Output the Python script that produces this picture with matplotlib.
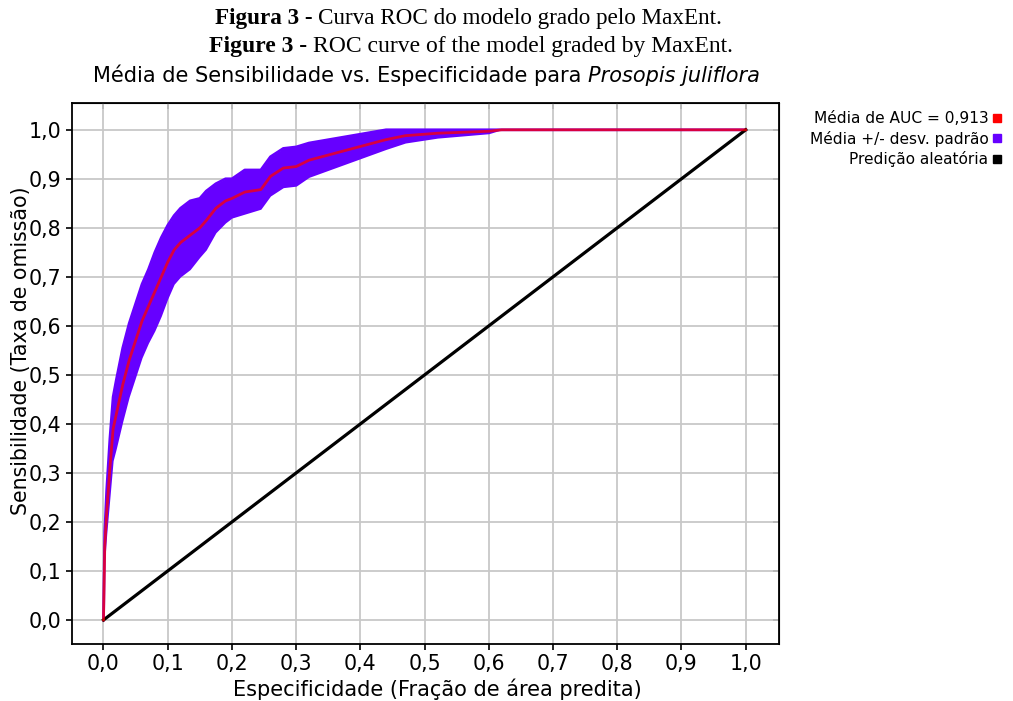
import numpy as np
import matplotlib
matplotlib.use("Agg")
import matplotlib.pyplot as plt
from matplotlib.lines import Line2D

# -----------------------------
# DATA
# -----------------------------
fpr = [0.0, 0.002, 0.005, 0.01, 0.015, 0.02, 0.03, 0.04, 0.05, 0.06, 0.07,
       0.08, 0.09, 0.10, 0.11, 0.12, 0.135, 0.15, 0.16, 0.175, 0.19, 0.20,
       0.22, 0.245, 0.26, 0.28, 0.30, 0.32, 0.36, 0.40, 0.44, 0.47, 0.52,
       0.60, 0.62, 1.0]
mean_tpr = [0.0, 0.15, 0.22, 0.31, 0.39, 0.42, 0.48, 0.53, 0.57, 0.61, 0.64,
            0.67, 0.70, 0.73, 0.755, 0.77, 0.785, 0.80, 0.815, 0.84, 0.855, 0.86,
            0.873, 0.878, 0.905, 0.922, 0.925, 0.938, 0.952, 0.966, 0.98, 0.988, 0.993,
            0.997, 1.0, 1.0]
sd_tpr = [0.0, 0.03, 0.045, 0.06, 0.065, 0.07, 0.075, 0.075, 0.075, 0.075, 0.075,
          0.08, 0.08, 0.075, 0.07, 0.07, 0.07, 0.06, 0.06, 0.05, 0.045, 0.04,
          0.045, 0.04, 0.04, 0.04, 0.04, 0.035, 0.03, 0.025, 0.02, 0.015, 0.01,
          0.005, 0.0, 0.0]
random_x = [0.0, 1.0]
random_y = [0.0, 1.0]

auc_label = "Média de AUC = 0,913"
sd_label = "Média +/- desv. padrão"
rand_label = "Predição aleatória"

ticks = [0.0, 0.1, 0.2, 0.3, 0.4, 0.5, 0.6, 0.7, 0.8, 0.9, 1.0]
tick_labels = ["0,0", "0,1", "0,2", "0,3", "0,4", "0,5", "0,6", "0,7", "0,8", "0,9", "1,0"]

VIOLET = "#6600ff"

# -----------------------------
# PLOT
# -----------------------------
fig = plt.figure(figsize=(10.13, 7.01), dpi=100)
ax = fig.add_axes([0.0711, 0.0813, 0.698, 0.772])

x = np.array(fpr)
m = np.array(mean_tpr)
s = np.array(sd_tpr)
upper = np.minimum(m + s, 1.0)
lower = m - s

ax.fill_between(x, lower, upper, color=VIOLET, linewidth=0, zorder=2)
ax.plot(x, upper, color=VIOLET, linewidth=2.0, zorder=2)
ax.plot(random_x, random_y, color="black", linewidth=2.3, zorder=3)
ax.plot(x, m, color="#ff0000", linewidth=2.0, alpha=0.75, zorder=4)

ax.set_xlim(-0.049, 1.052)
ax.set_ylim(-0.049, 1.055)
ax.set_xticks(ticks)
ax.set_xticklabels(tick_labels)
ax.set_yticks(ticks)
ax.set_yticklabels(tick_labels)
ax.tick_params(axis="both", labelsize=14.8, direction="out", length=4, width=1.2)
ax.grid(True, color="#c8c8c8", linewidth=1.3)
ax.set_axisbelow(True)
for sp in ax.spines.values():
    sp.set_linewidth(1.3)

# inward ticks on top and right
top = ax.secondary_xaxis("top")
top.set_xticks(ticks)
top.set_xticklabels([])
top.tick_params(direction="in", length=4, width=1.2)
right = ax.secondary_yaxis("right")
right.set_yticks(ticks)
right.set_yticklabels([])
right.tick_params(direction="in", length=4, width=1.2)

ax.set_xlabel("Especificidade (Fração de área predita)", fontsize=15)
ax.set_ylabel("Sensibilidade (Taxa de omissão)", fontsize=14.8)
ax.xaxis.set_label_coords(0.517, -0.064)
ax.yaxis.set_label_coords(-0.058, 0.542)

# legend outside, right aligned with markers after text
handles = [
    Line2D([], [], linestyle="none", marker="s", markersize=5.5, color="#ff0000"),
    Line2D([], [], linestyle="none", marker="s", markersize=5.5, color=VIOLET),
    Line2D([], [], linestyle="none", marker="s", markersize=5.5, color="black"),
]
fig.legend(handles, [auc_label, sd_label, rand_label], loc="upper right",
           bbox_to_anchor=(1.0, 0.857), frameon=False, markerfirst=False,
           fontsize=11.1, handletextpad=0.2, handlelength=0.7, labelspacing=0.3,
           borderaxespad=0.3)

# -----------------------------
# CAPTION + TITLE (mixed styles)
# -----------------------------
renderer = fig.canvas.get_renderer()


def mixed_line(pieces, xc, y, **kw):
    objs = []
    for txt, style in pieces:
        t = fig.text(0, y, txt, va="baseline", ha="left", **kw, **style)
        objs.append(t)
    widths = [o.get_window_extent(renderer).width for o in objs]
    total = sum(widths)
    start = xc * fig.bbox.width - total / 2
    for o, w in zip(objs, widths):
        o.set_x(start / fig.bbox.width)
        start += w


mixed_line([("Figura 3 - ", dict(weight="bold")),
            ("Curva ROC do modelo grado pelo MaxEnt.", {})],
           0.4625, 1 - 24 / 701, family="Liberation Serif", fontsize=16.7)
mixed_line([("Figure 3 - ", dict(weight="bold")),
            ("ROC curve of the model graded by MaxEnt.", {})],
           0.465, 1 - 52 / 701, family="Liberation Serif", fontsize=17.0)
mixed_line([("Média de Sensibilidade vs. Especificidade para ", {}),
            ("Prosopis juliflora", dict(style="italic"))],
           0.421, 1 - 82 / 701, family="DejaVu Sans", fontsize=15)

fig.savefig("out.png", dpi=100)
